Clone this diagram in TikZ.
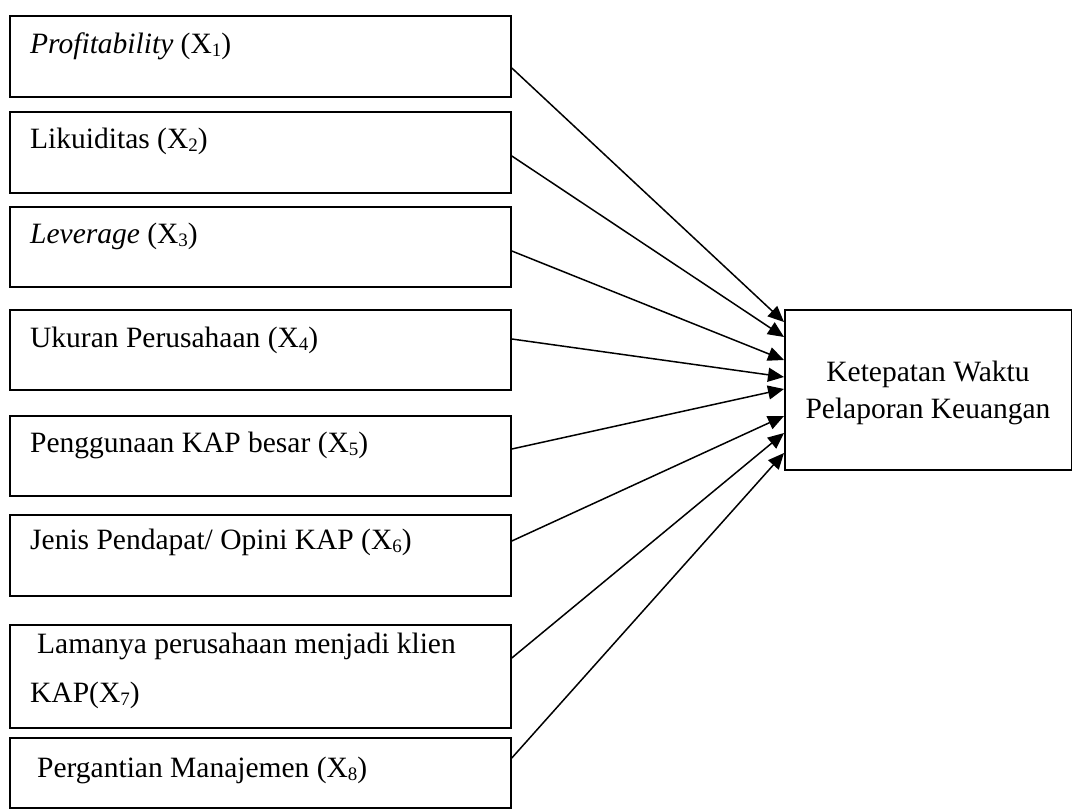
\documentclass[tikz,border=0pt]{standalone}
\usepackage{fontspec}
\setmainfont{Liberation Serif}
\usetikzlibrary{arrows.meta}
\newcommand\xsub[1]{\raisebox{-0.12em}{\fontsize{19}{19}\selectfont #1}}
\begin{document}
\begin{tikzpicture}[x=1pt,y=-1pt,
  box/.style={draw,line width=1.8pt,inner sep=0pt,anchor=north west},
  lbl/.style={anchor=base west,inner sep=0pt,font=\fontsize{29.5}{36}\selectfont},
  arr/.style={line width=1.5pt,-{Triangle[length=16pt,width=14pt]}}]
\useasboundingbox (0,0) rectangle (1072,809);
\node[box,minimum width=501pt,minimum height=81pt] (b1) at (9,15) {};
\node[box,minimum width=501pt,minimum height=81pt] (b2) at (9,111) {};
\node[box,minimum width=501pt,minimum height=80pt] (b3) at (9,206) {};
\node[box,minimum width=501pt,minimum height=80pt] (b4) at (9,309) {};
\node[box,minimum width=501pt,minimum height=80pt] (b5) at (9,415) {};
\node[box,minimum width=501pt,minimum height=81pt] (b6) at (9,514) {};
\node[box,minimum width=501pt,minimum height=103pt] (b7) at (9,624) {};
\node[box,minimum width=501pt,minimum height=70pt] (b8) at (9,737) {};
\node[box,minimum width=287pt,minimum height=160pt] (t) at (784,309) {};
\node[lbl] (l1) at (30,53) {\textit{Profitability} (X\xsub{1})};
\node[lbl] (l2) at (30,148) {Likuiditas (X\xsub{2})};
\node[lbl] (l3) at (30,243) {\textit{Leverage} (X\xsub{3})};
\node[lbl] (l4) at (30,347) {Ukuran Perusahaan (X\xsub{4})};
\node[lbl] (l5) at (30,452) {Penggunaan KAP besar (X\xsub{5})};
\node[lbl] (l6) at (30,549) {Jenis Pendapat/ Opini KAP (X\xsub{6})};
\node[lbl] (l7a) at (37,653) {Lamanya perusahaan menjadi klien};
\node[lbl] (l7b) at (30,702) {KAP(X\xsub{7})};
\node[lbl] (l8) at (37,777) {Pergantian Manajemen (X\xsub{8})};
\node[align=center,inner sep=0pt,font=\fontsize{29.5}{37}\selectfont] (tl) at (928,393) {Ketepatan Waktu\\Pelaporan Keuangan};
\draw[arr] (b1.east |- 0,68) -- (t.west |- 0,322);
\draw[arr] (b2.east |- 0,156) -- (t.west |- 0,337);
\draw[arr] (b3.east |- 0,251) -- (t.west |- 0,360);
\draw[arr] (b4.east |- 0,339) -- (t.west |- 0,377);
\draw[arr] (b5.east |- 0,449) -- (t.west |- 0,389);
\draw[arr] (b6.east |- 0,541) -- (t.west |- 0,416);
\draw[arr] (b7.east |- 0,658) -- (t.west |- 0,433);
\draw[arr] (b8.east |- 0,758) -- (t.west |- 0,453);
\end{tikzpicture}
\end{document}
